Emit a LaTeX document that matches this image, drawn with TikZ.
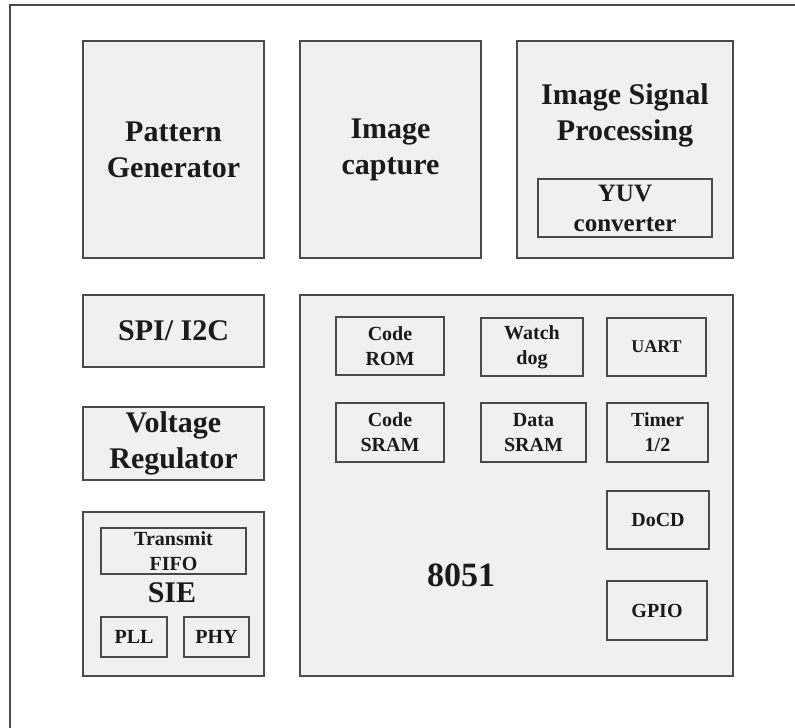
\documentclass[tikz,border=0pt]{standalone}
\usepackage{fontspec}
\setmainfont{Liberation Serif}
\definecolor{boxgray}{HTML}{F0F0F0}
\definecolor{edgegray}{HTML}{4A4A4A}
\definecolor{inkgray}{HTML}{1A1A1A}

\begin{document}
\begin{tikzpicture}[x=1pt,y=-1pt,
		blk/.style={draw=edgegray, fill=boxgray, line width=1.3pt, inner sep=0pt, align=center, text=inkgray, font=\bfseries\fontsize{30}{36}\selectfont},
		sub/.style={blk, line width=1.2pt, font=\bfseries\fontsize{20}{25}\selectfont},
		lbl/.style={align=center, inner sep=0pt, text=inkgray, font=\bfseries\fontsize{30}{36}\selectfont}]
			\useasboundingbox (0,0) rectangle (795,728);
			\draw[edgegray, line width=1.3pt] (10,728) -- (10,5) -- (795,5);
			% top row
			\node[blk, minimum width=181pt, minimum height=217pt] (pg) at (173.5,149.5) {Pattern\\Generator};
			\node[blk, minimum width=181pt, minimum height=217pt] (ic) at (390.5,149.5) {Image\\capture};
			\node[blk, minimum width=216pt, minimum height=217pt] (isp) at (625,149.5) {};
			\node[lbl] (isptxt) at (625,115) {Image Signal\\Processing};
			\node[sub, minimum width=174pt, minimum height=58pt, font=\bfseries\fontsize{25}{30}\selectfont] (yuv) at (625,208) {YUV\\converter};
			% left column
			\node[blk, minimum width=181pt, minimum height=72pt] (spi) at (173.5,331) {SPI/ I2C};
			\node[blk, minimum width=181pt, minimum height=73pt] (vr) at (173.5,443.5) {Voltage\\Regulator};
			\node[blk, minimum width=181pt, minimum height=164pt] (sie) at (173.5,594) {};
			\node[sub, minimum width=145pt, minimum height=46pt] (fifo) at (173.5,551) {Transmit\\FIFO};
			\node[lbl] (sietxt) at (172,593) {SIE};
			\node[sub, minimum width=66pt, minimum height=40pt] (pll) at (134,637) {PLL};
			\node[sub, minimum width=65pt, minimum height=40pt] (phy) at (216.5,637) {PHY};
			% 8051 core
			\node[blk, minimum width=433pt, minimum height=381pt] (core) at (516.5,485.5) {};
			\node[lbl, font=\bfseries\fontsize{34}{40}\selectfont] (coretxt) at (461,575) {8051};
			\node[sub, minimum width=108pt, minimum height=58pt] (rom) at (390,346) {Code\\ROM};
			\node[sub, minimum width=102pt, minimum height=58pt] (wdog) at (532,347) {Watch\\dog};
			\node[sub, minimum width=99pt, minimum height=58pt, font=\bfseries\fontsize{18}{22}\selectfont] (uart) at (656.5,347) {UART};
			\node[sub, minimum width=108pt, minimum height=59pt] (csram) at (390,432.5) {Code\\SRAM};
			\node[sub, minimum width=105pt, minimum height=59pt] (dsram) at (533.5,432.5) {Data\\SRAM};
			\node[sub, minimum width=101pt, minimum height=59pt] (timer) at (657.5,432.5) {Timer\\1/2};
			\node[sub, minimum width=102pt, minimum height=58pt] (docd) at (658,520) {DoCD};
			\node[sub, minimum width=100pt, minimum height=59pt] (gpio) at (657,610.5) {GPIO};
		\end{tikzpicture}
\end{document}
